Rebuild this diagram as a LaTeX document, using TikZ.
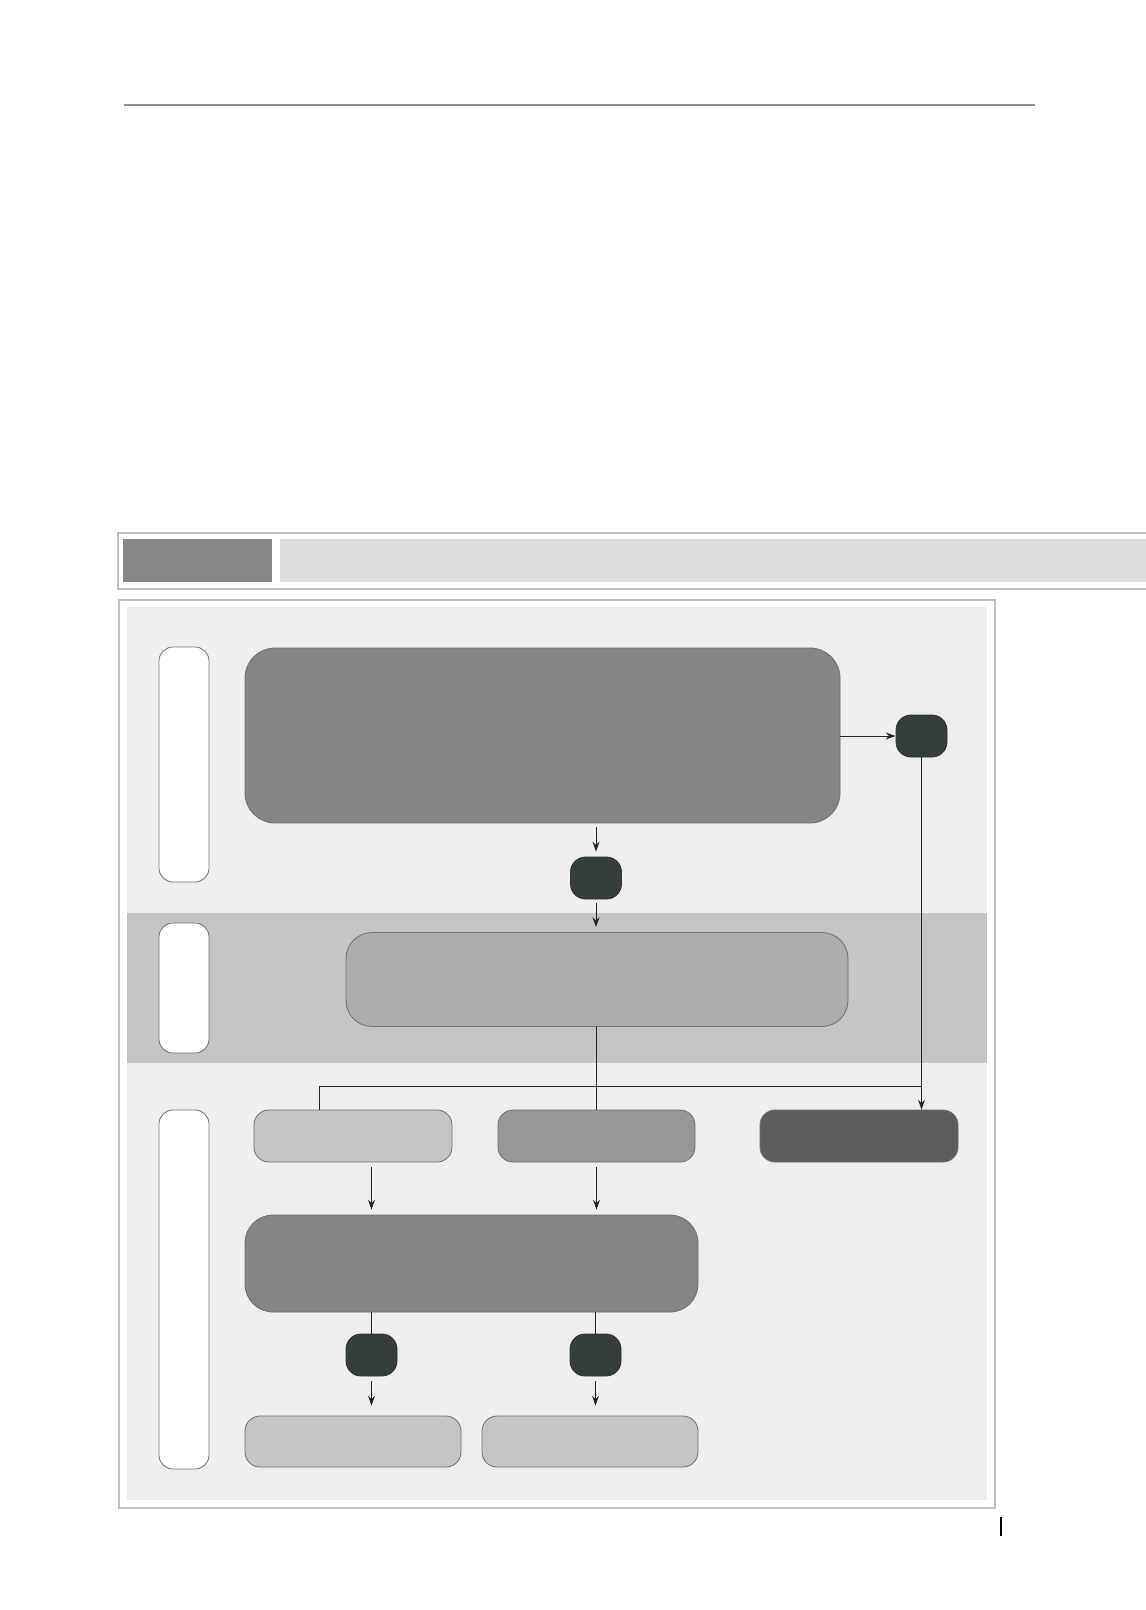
\documentclass[tikz,border=0pt]{standalone}
\usepackage{tikz}
\usetikzlibrary{arrows}
\usetikzlibrary{arrows.meta}
\usetikzlibrary{calc}
\definecolor{rule}{HTML}{8F8F8F}
\definecolor{frameg}{HTML}{BFC0BF}
\definecolor{tabdark}{HTML}{858688}
\definecolor{tablight}{HTML}{DCDCDC}
\definecolor{panel}{HTML}{EDEEED}
\definecolor{band}{HTML}{C3C4C3}
\definecolor{boxdark}{HTML}{838685}
\definecolor{boxmid}{HTML}{ACADAC}
\definecolor{boxgray}{HTML}{979897}
\definecolor{boxlight}{HTML}{C3C4C3}
\definecolor{boxblack}{HTML}{5B5D5A}
\definecolor{dot}{HTML}{363E39}
\definecolor{edgeg}{HTML}{6E706E}
\begin{document}
\begin{tikzpicture}[x=1pt,y=-1pt,>={Stealth[length=10pt,width=7pt,inset=3.5pt]},
box/.style={draw=edgeg,line width=0.8pt,inner sep=0pt,rounded corners=15pt},
big/.style={box,rounded corners=30pt},
pill/.style={box,fill=white,minimum width=50pt,rounded corners=14pt},
dark/.style={box,fill=dot,draw=black!80,minimum width=51pt,minimum height=42pt,rounded corners=15pt},
link/.style={line width=0.9pt,draw=black!85}]
\useasboundingbox(0,0)rectangle(1146,1610);
\draw[rule,line width=2pt](124,105)--(1035,105);
\draw[frameg,line width=1.5pt](118,533)rectangle(1160,589);
\fill[tabdark](123,539)rectangle(272,582);
\fill[tablight](280,539)rectangle(1146,582);
\draw[frameg,line width=1.5pt](119,600)rectangle(995,1508);
\fill[panel](127,607)rectangle(987,1500);
\fill[band](127,913)rectangle(987,1063);
\node[pill,minimum height=235pt](p1)at(184,764.5){};
\node[pill,minimum height=130pt](p2)at(184,988){};
\node[pill,minimum height=359pt](p3)at(184,1289.5){};
\node[big,fill=boxdark,minimum width=595pt,minimum height=175pt](top)at(542.5,735.5){};
\node[dark](a)at(921.5,736){};
\node[dark](b)at(596,878){};
\node[big,fill=boxmid,minimum width=502pt,minimum height=94pt,rounded corners=26pt](mid)at(597,979.5){};
\node[box,fill=boxlight,minimum width=198pt,minimum height=52pt](l)at(353,1136){};
\node[box,fill=boxgray,minimum width=197pt,minimum height=52pt](m)at(596.5,1136){};
\node[box,fill=boxblack,minimum width=198pt,minimum height=52pt](r)at(859,1136){};
\node[big,fill=boxdark,minimum width=453pt,minimum height=97pt,rounded corners=28pt](low)at(471.5,1263.5){};
\node[dark](c)at(371.5,1355){};
\node[dark](d)at(595.5,1355){};
\node[box,fill=boxlight,minimum width=216pt,minimum height=51pt](e)at(353,1441.5){};
\node[box,fill=boxlight,minimum width=216pt,minimum height=51pt](f)at(590,1441.5){};
\coordinate(j)at(319,1086);
\draw[link,->](top.east|-a)--(a.west);
\draw[link,->,shorten <=4pt,shorten >=5pt](top.south-|b)--(b.north);
\draw[link,->,shorten <=4pt,shorten >=5pt](b.south)--(mid.north-|b);
\draw[link,->](a.south)--(a|-r.north);
\draw[link](mid.south-|m)--(m.north);
\draw[link](a|-j)--(j)--(j|-l.north);
\draw[link,->,shorten <=5pt,shorten >=5pt](l.south-|c)--(low.north-|c);
\draw[link,->,shorten <=5pt,shorten >=5pt](m.south)--(low.north-|m);
\draw[link](low.south-|c)--(c.north);
\draw[link](low.south-|d)--(d.north);
\draw[link,->,shorten <=5pt,shorten >=10pt](c.south)--(c|-e.north);
\draw[link,->,shorten <=5pt,shorten >=10pt](d.south)--(d|-f.north);
\draw[line width=2pt](1001,1517)--(1001,1536);
\end{tikzpicture}
\end{document}
